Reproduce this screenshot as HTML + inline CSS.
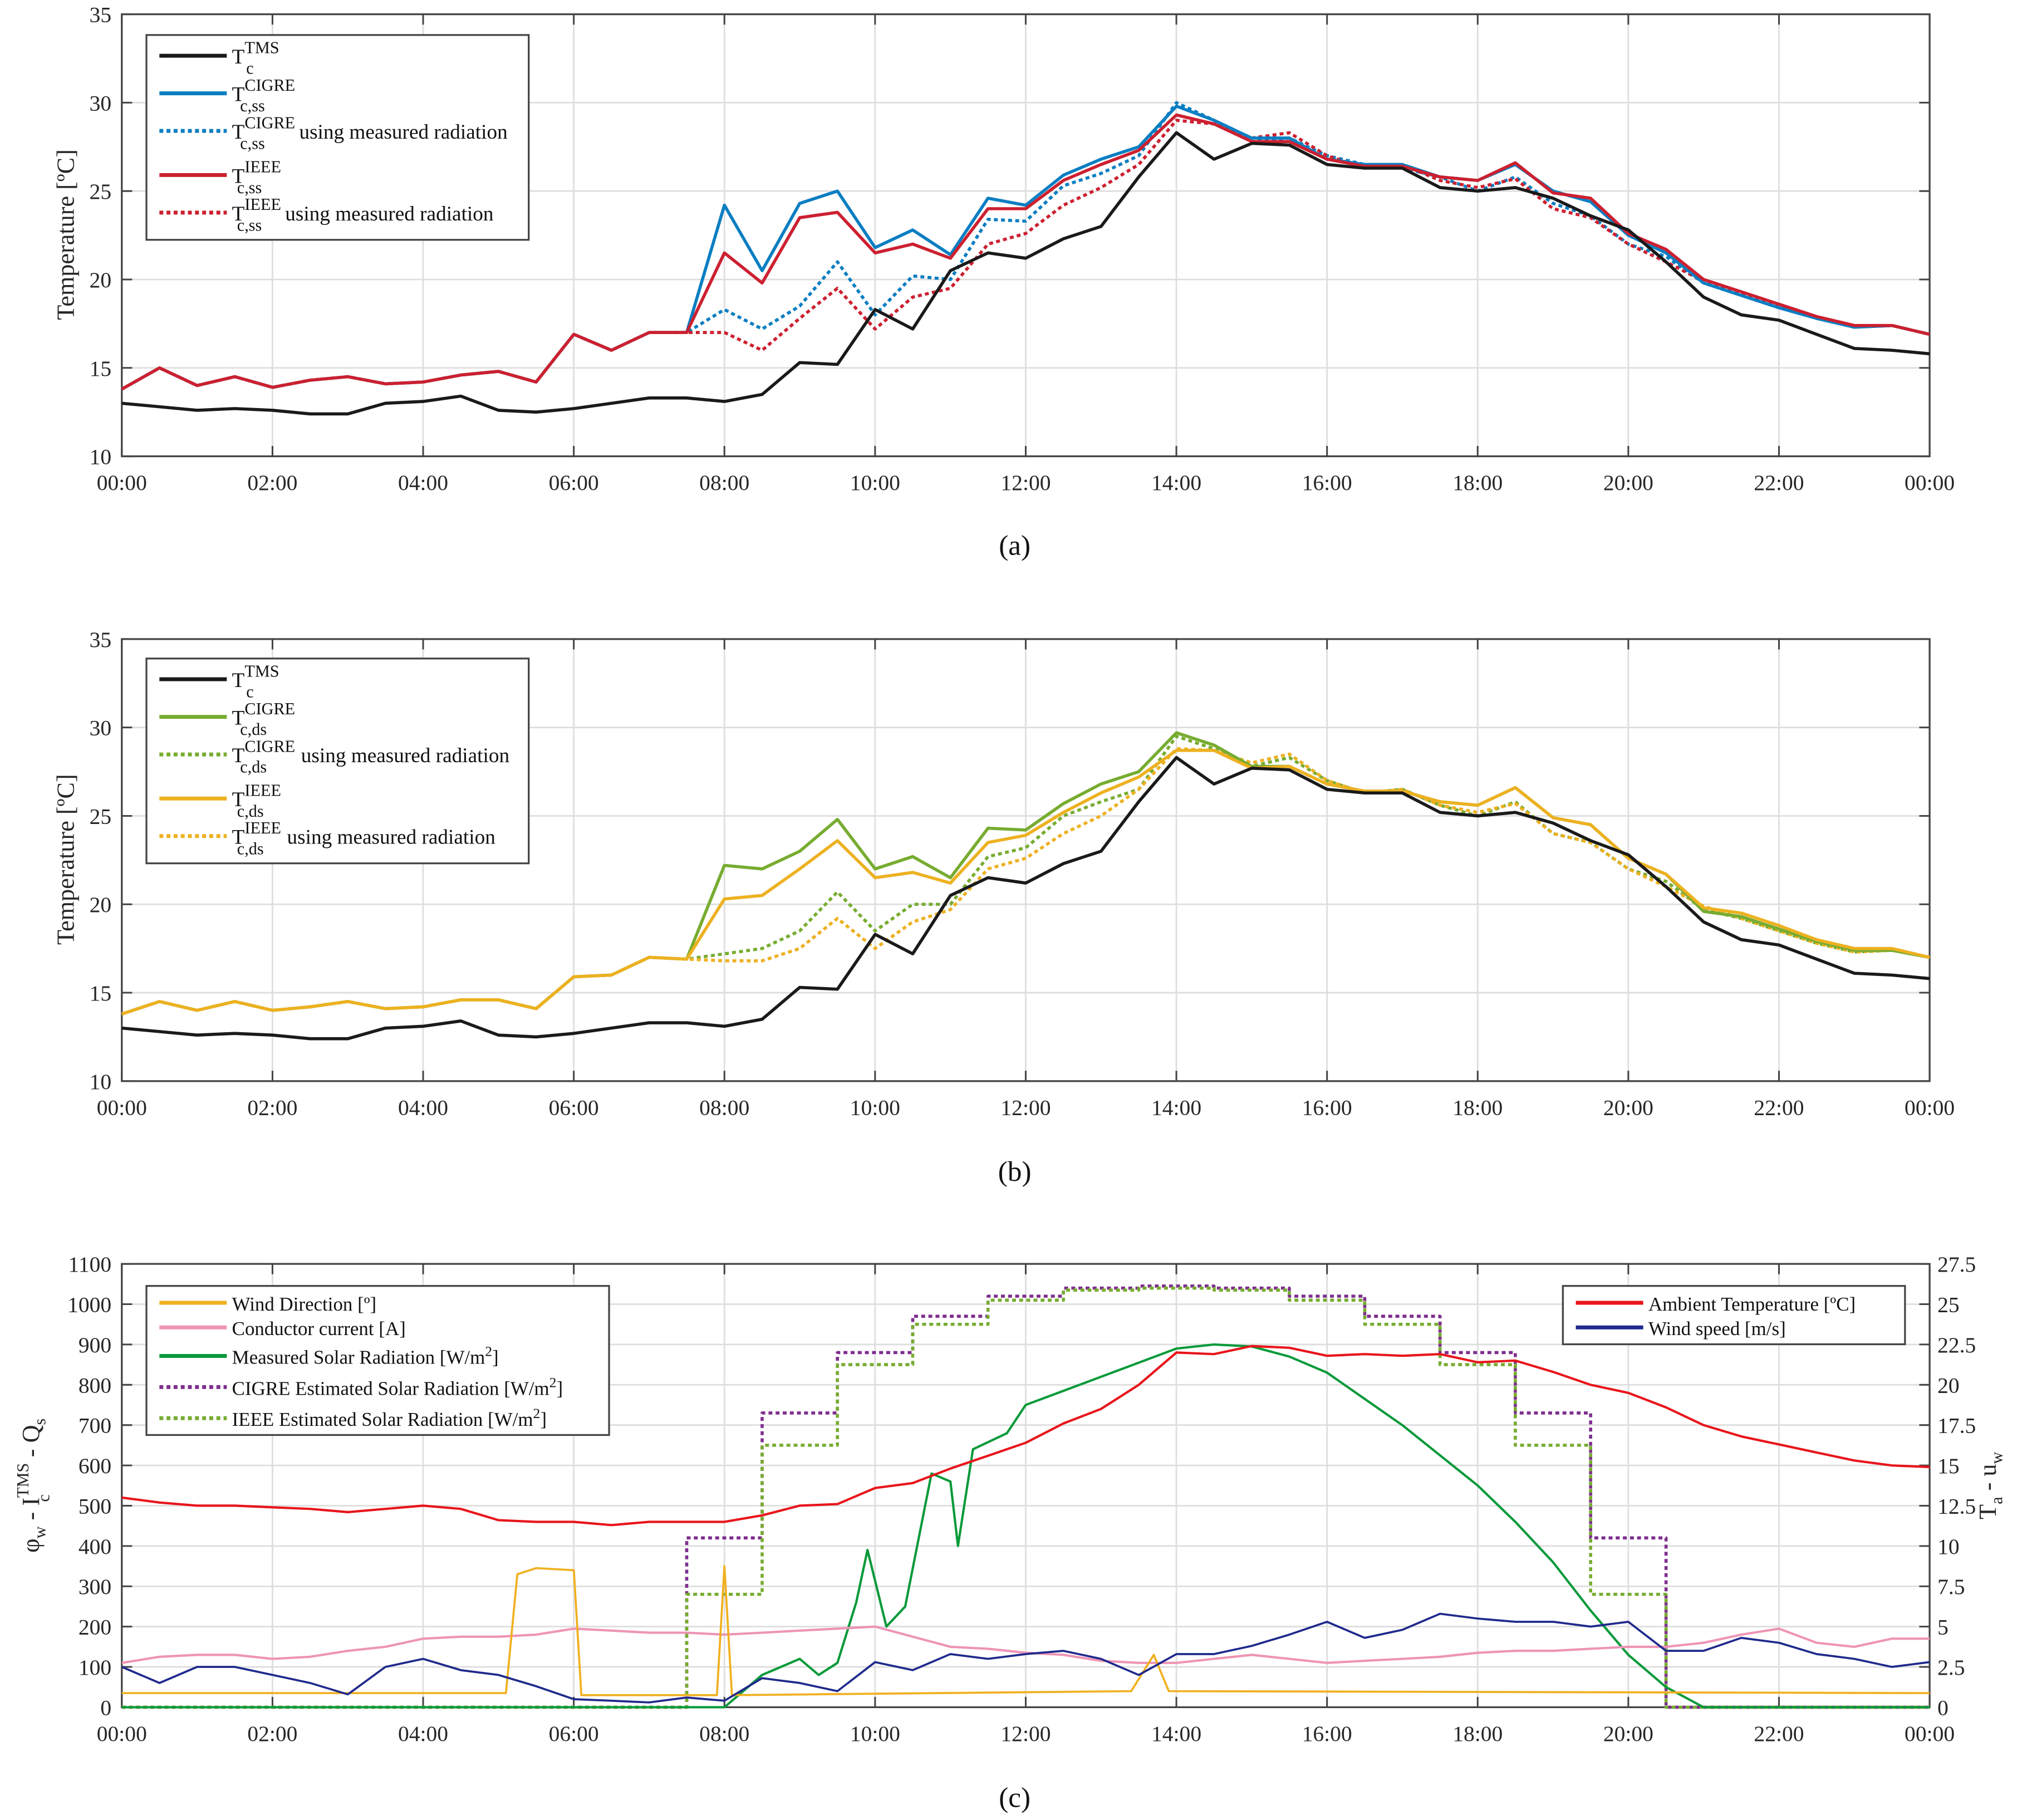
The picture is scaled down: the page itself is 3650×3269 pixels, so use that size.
<!DOCTYPE html>
<html><head><meta charset="utf-8"><style>
html,body{margin:0;padding:0;background:#fff}
svg{display:block;font-family:"Liberation Serif",serif}
</style></head><body>
<svg id="chart" xmlns="http://www.w3.org/2000/svg" width="3650" height="3269" viewBox="0 0 1568 1404" preserveAspectRatio="none"></svg>
<script>
// ---------- data ----------
const hours = [0,0.5,1,1.5,2,2.5,3,3.5,4,4.5,5,5.5,6,6.5,7,7.5,8,8.5,9,9.5,10,10.5,11,11.5,12,12.5,13,13.5,14,14.5,15,15.5,16,16.5,17,17.5,18,18.5,19,19.5,20,20.5,21,21.5,22,22.5,23,23.5,24];
const tms = [13.0,12.8,12.6,12.7,12.6,12.4,12.4,13.0,13.1,13.4,12.6,12.5,12.7,13.0,13.3,13.3,13.1,13.5,15.3,15.2,18.3,17.2,20.5,21.5,21.2,22.3,23.0,25.8,28.3,26.8,27.7,27.6,26.5,26.3,26.3,25.2,25.0,25.2,24.6,23.6,22.8,21.0,19.0,18.0,17.7,16.9,16.1,16.0,15.8];
const cigreSs = [13.8,15.0,14.0,14.5,13.9,14.3,14.5,14.1,14.2,14.6,14.8,14.2,16.9,16.0,17.0,17.0,24.2,20.5,24.3,25.0,21.8,22.8,21.4,24.6,24.2,25.9,26.8,27.5,29.8,29.0,28.0,28.0,26.8,26.5,26.5,25.8,25.6,26.5,25.0,24.4,22.5,21.5,19.8,19.1,18.4,17.8,17.3,17.4,16.9];
const cigreSsMeas = [13.8,15.0,14.0,14.5,13.9,14.3,14.5,14.1,14.2,14.6,14.8,14.2,16.9,16.0,17.0,17.0,18.3,17.2,18.5,21.0,18.0,20.2,20.0,23.4,23.3,25.3,26.0,27.0,30.0,29.0,27.8,28.0,27.0,26.5,26.3,25.8,25.0,25.8,24.3,23.6,22.0,21.3,19.8,19.1,18.4,17.8,17.3,17.4,16.9];
const ieeeSs = [13.8,15.0,14.0,14.5,13.9,14.3,14.5,14.1,14.2,14.6,14.8,14.2,16.9,16.0,17.0,17.0,21.5,19.8,23.5,23.8,21.5,22.0,21.2,24.0,24.0,25.6,26.5,27.3,29.3,28.8,27.8,27.8,26.8,26.4,26.4,25.8,25.6,26.6,24.9,24.6,22.6,21.7,20.0,19.3,18.6,17.9,17.4,17.4,16.9];
const ieeeSsMeas = [13.8,15.0,14.0,14.5,13.9,14.3,14.5,14.1,14.2,14.6,14.8,14.2,16.9,16.0,17.0,17.0,17.0,16.0,17.8,19.5,17.2,19.0,19.5,22.0,22.6,24.2,25.2,26.5,29.0,28.8,28.0,28.3,27.0,26.3,26.5,25.6,25.2,25.7,24.0,23.5,22.0,21.0,19.9,19.2,18.5,17.8,17.3,17.4,16.9];
const cigreDs = [13.8,14.5,14.0,14.5,14.0,14.2,14.5,14.1,14.2,14.6,14.6,14.1,15.9,16.0,17.0,16.9,22.2,22.0,23.0,24.8,22.0,22.7,21.5,24.3,24.2,25.7,26.8,27.5,29.7,29.0,27.8,27.8,26.8,26.4,26.4,25.8,25.6,26.6,24.9,24.5,22.6,21.7,19.6,19.3,18.6,17.9,17.4,17.4,17.0];
const cigreDsMeas = [13.8,14.5,14.0,14.5,14.0,14.2,14.5,14.1,14.2,14.6,14.6,14.1,15.9,16.0,17.0,16.9,17.2,17.5,18.5,20.7,18.5,20.0,20.0,22.7,23.2,25.0,25.8,26.5,29.5,28.8,27.8,28.3,27.0,26.3,26.5,25.6,25.0,25.8,24.0,23.5,22.0,21.3,19.7,19.2,18.5,17.8,17.3,17.4,17.0];
const ieeeDs = [13.8,14.5,14.0,14.5,14.0,14.2,14.5,14.1,14.2,14.6,14.6,14.1,15.9,16.0,17.0,16.9,20.3,20.5,22.0,23.6,21.5,21.8,21.2,23.5,23.9,25.2,26.3,27.2,28.7,28.7,27.7,27.8,26.8,26.4,26.4,25.8,25.6,26.6,24.9,24.5,22.6,21.7,19.8,19.5,18.8,18.0,17.5,17.5,17.0];
const ieeeDsMeas = [13.8,14.5,14.0,14.5,14.0,14.2,14.5,14.1,14.2,14.6,14.6,14.1,15.9,16.0,17.0,16.9,16.8,16.8,17.5,19.2,17.5,19.0,19.7,22.0,22.6,24.0,25.0,26.5,28.8,28.7,28.0,28.5,27.0,26.3,26.5,25.6,25.2,25.7,24.0,23.5,22.0,21.0,19.9,19.2,18.5,17.8,17.3,17.4,17.0];
const ambient = [13.0,12.7,12.5,12.5,12.4,12.3,12.1,12.3,12.5,12.3,11.6,11.5,11.5,11.3,11.5,11.5,11.5,11.9,12.5,12.6,13.6,13.9,14.8,15.6,16.4,17.6,18.5,20.0,22.0,21.9,22.4,22.3,21.8,21.9,21.8,21.9,21.4,21.5,20.8,20.0,19.5,18.6,17.5,16.8,16.3,15.8,15.3,15.0,14.9];
const windSpeed = [2.5,1.5,2.5,2.5,2.0,1.5,0.8,2.5,3.0,2.3,2.0,1.3,0.5,0.4,0.3,0.6,0.4,1.8,1.5,1.0,2.8,2.3,3.3,3.0,3.3,3.5,3.0,2.0,3.3,3.3,3.8,4.5,5.3,4.3,4.8,5.8,5.5,5.3,5.3,5.0,5.3,3.5,3.5,4.3,4.0,3.3,3.0,2.5,2.8];
const current = [110,125,130,130,120,125,140,150,170,175,175,180,195,190,185,185,180,185,190,195,200,175,150,145,135,130,115,110,110,120,130,120,110,115,120,125,135,140,140,145,150,150,160,180,195,160,150,170,170];
const dirHours = [0,5.1,5.25,5.5,6.0,6.1,7.9,8.0,8.1,13.4,13.7,13.9,24];
const windDir = [35,35,330,345,340,30,30,350,30,40,130,40,35];
const solarHours = [0,8.0,8.5,9.0,9.25,9.5,9.75,9.9,10.15,10.4,10.75,11.0,11.1,11.3,11.75,12.0,13.0,14.0,14.5,15.0,15.5,16.0,17.0,18.0,18.5,19.0,19.5,20.0,20.5,21.0,24];
const solarMeas = [0,0,80,120,80,110,260,390,200,250,580,560,400,640,680,750,820,890,900,895,870,830,700,550,460,360,240,130,50,0,0];
const stepHours = [0,7.5,8.5,9.5,10.5,11.5,12.5,13.5,14.5,15.5,16.5,17.5,18.5,19.5,20.5,24];
const cigreRad = [0,420,730,880,970,1020,1040,1045,1040,1020,970,880,730,420,0];
const ieeeRad = [0,280,650,850,950,1010,1035,1040,1035,1010,950,850,650,280,0];
const tempTicks = [10,15,20,25,30,35];
const leftTicksC = [0,100,200,300,400,500,600,700,800,900,1000,1100];
const rightTicksC = ["0","2.5","5","7.5","10","12.5","15","17.5","20","22.5","25","27.5"];
const timeLabels = ["00:00","02:00","04:00","06:00","08:00","10:00","12:00","14:00","16:00","18:00","20:00","22:00","00:00"];

// ---------- drawing ----------
const NS="http://www.w3.org/2000/svg";
const svg=document.getElementById('chart');
function mk(tag,attrs,parent){const e=document.createElementNS(NS,tag);for(const k in attrs)e.setAttribute(k,attrs[k]);(parent||svg).appendChild(e);return e;}
const X0=94,X1=1489;
function xS(h){return X0+(X1-X0)*h/24;}
function axes(top,bot,ymin,ymax,ticks,name,rightLabels){
  const g=mk('g',{});
  
  
  const yS=v=>bot-(bot-top)*(v-ymin)/(ymax-ymin);
  for(let i=0;i<=12;i++){const x=xS(i*2);
    const gl=mk('line',{x1:x,x2:x,y1:top,y2:bot,stroke:'#dedede','stroke-width':1.2},g);
    
    const t=mk('text',{x:x,y:bot+26,'text-anchor':'middle','font-size':17,fill:'#262626'},g);t.textContent=timeLabels[i];
    
    mk('line',{x1:x,x2:x,y1:bot,y2:bot-8,stroke:'#444','stroke-width':1.3},g);
    mk('line',{x1:x,x2:x,y1:top,y2:top+8,stroke:'#444','stroke-width':1.3},g);
  }
  ticks.forEach((v,i)=>{const y=yS(v);
    const gl=mk('line',{x1:X0,x2:X1,y1:y,y2:y,stroke:'#dedede','stroke-width':1.2},g);
    
    const t=mk('text',{x:X0-8,y:y+6,'text-anchor':'end','font-size':17,fill:'#262626'},g);t.textContent=v;
    
    mk('line',{x1:X0,x2:X0+8,y1:y,y2:y,stroke:'#444','stroke-width':1.3},g);
    mk('line',{x1:X1,x2:X1-8,y1:y,y2:y,stroke:'#444','stroke-width':1.3},g);
    if(rightLabels){const r=mk('text',{x:X1+6,y:y+6,'font-size':17,fill:'#262626'},g);r.textContent=rightLabels[i];
      }
  });
  const b=mk('rect',{x:X0,y:top,width:X1-X0,height:bot-top,fill:'none',stroke:'#444','stroke-width':1.4},g);
  
  return yS;
}
function line(xs,ys,yS,color,dashed,name,w,step){
  let d='';
  xs.forEach((h,i)=>{ if(step){ if(i<ys.length){d+=(i?'L':'M')+xS(h).toFixed(1)+','+yS(ys[i]).toFixed(1)+'L'+xS(xs[i+1]).toFixed(1)+','+yS(ys[i]).toFixed(1);} }
    else d+=(i?'L':'M')+xS(h).toFixed(1)+','+yS(ys[i]).toFixed(1);});
  const p=mk('path',{d:d,fill:'none',stroke:color,'stroke-width':w||2.4,'stroke-linejoin':'round','stroke-dasharray':dashed?'3 2.5':'none'});
  
  
}
function ylabel(x,y,txt,name){const t=mk('text',{x:x,y:y,transform:`rotate(-90 ${x} ${y})`,'text-anchor':'middle','font-size':19,fill:'#262626'});t.innerHTML=txt;
  }
function caption(y,txt){const t=mk('text',{x:783,y:y,'text-anchor':'middle','font-size':22,fill:'#111'});t.textContent=txt;
  }
function legend(x,y,w,h,items,name){
  const g=mk('g',{});
  
  mk('rect',{x:x,y:y,width:w,height:h,fill:'#fff',stroke:'#444','stroke-width':1.4},g);
  items.forEach(it=>{
    const e=mk('g',{},g);
    
    mk('line',{x1:x+10,x2:x+62,y1:it.y,y2:it.y,stroke:it.c,'stroke-width':3,'stroke-dasharray':it.d?'3 2.5':'none'},e);
    const t=mk('text',{x:x+66,y:it.y+6,'font-size':it.fs||16,fill:'#111'},e);t.innerHTML=it.t;
  });
}
function tl(sup,sub,extra){return `T<tspan dy="-8" font-size="13">${sup}</tspan><tspan dx="-${sup.length*8.5}" dy="16" font-size="13">${sub}</tspan>`+(extra?`<tspan dy="-8" dx="${Math.max(0,sup.length*8.5-sub.length*6.5)+6}"> using measured radiation</tspan>`:'');}

// Panel a
let yA=axes(11,352,10,35,tempTicks,'panel-a');
ylabel(57,181,'Temperature [ºC]','y-axis-title-a');
line(hours,cigreSsMeas,yA,'#0a7ec2',true,'cigre-ss-measured-line');
line(hours,ieeeSsMeas,yA,'#cc2030',true,'ieee-ss-measured-line');
line(hours,cigreSs,yA,'#0a7ec2',false,'cigre-ss-line');
line(hours,ieeeSs,yA,'#cc2030',false,'ieee-ss-line');
line(hours,tms,yA,'#1a1a1a',false,'tms-line-a');
legend(113,27,295,158,[{y:43,c:'#1a1a1a',t:tl('TMS','c')},{y:72,c:'#0a7ec2',t:tl('CIGRE','c,ss')},{y:101,c:'#0a7ec2',d:1,t:tl('CIGRE','c,ss',1)},{y:135,c:'#cc2030',t:tl('IEEE','c,ss')},{y:164,c:'#cc2030',d:1,t:tl('IEEE','c,ss',1)}],'legend-a');
caption(428,'(a)');

// Panel b
let yB=axes(493,834,10,35,tempTicks,'panel-b');
ylabel(57,663,'Temperature [ºC]','y-axis-title-b');
line(hours,cigreDsMeas,yB,'#77ac30',true,'cigre-ds-measured-line');
line(hours,ieeeDsMeas,yB,'#edb120',true,'ieee-ds-measured-line');
line(hours,cigreDs,yB,'#77ac30',false,'cigre-ds-line');
line(hours,ieeeDs,yB,'#edb120',false,'ieee-ds-line');
line(hours,tms,yB,'#1a1a1a',false,'tms-line-b');
legend(113,508,295,158,[{y:524,c:'#1a1a1a',t:tl('TMS','c')},{y:553,c:'#77ac30',t:tl('CIGRE','c,ds')},{y:582,c:'#77ac30',d:1,t:tl('CIGRE','c,ds',1)},{y:616,c:'#edb120',t:tl('IEEE','c,ds')},{y:645,c:'#edb120',d:1,t:tl('IEEE','c,ds',1)}],'legend-b');
caption(911,'(b)');

// Panel c
let yC=axes(975,1317,0,1100,leftTicksC,'panel-c',rightTicksC);
let yR=v=>yC(v*40);
ylabel(30,1146,'φ<tspan dy="5" font-size="13">w</tspan><tspan dy="-5"> - I</tspan><tspan dy="-8" font-size="13">TMS</tspan><tspan dx="-30" dy="16" font-size="13">c</tspan><tspan dx="24" dy="-8"> - Q</tspan><tspan dy="5" font-size="13">s</tspan>','left-y-axis-title');
const rt=mk('text',{x:1540,y:1146,transform:'rotate(-90 1540 1146)','text-anchor':'middle','font-size':19,fill:'#262626'});
rt.innerHTML='T<tspan dy="5" font-size="13">a</tspan><tspan dy="-5"> - u</tspan><tspan dy="5" font-size="13">w</tspan>';


line(stepHours,cigreRad,yC,'#7e2f8e',true,'cigre-estimated-radiation-line',2.4,true);
line(stepHours,ieeeRad,yC,'#77ac30',true,'ieee-estimated-radiation-line',2.4,true);
line(solarHours,solarMeas,yC,'#0a9a3a',false,'measured-radiation-line',1.8);
line(hours,current,yC,'#ee94b6',false,'conductor-current-line',1.8);
line(dirHours,windDir,yC,'#f0b020',false,'wind-direction-line',1.6);
line(hours,windSpeed,yR,'#1f2a8c',false,'wind-speed-line',1.6);
line(hours,ambient,yR,'#e8151b',false,'ambient-temperature-line',1.8);
legend(113,992,357,115,[{y:1005,c:'#f0b020',t:'Wind Direction [º]',fs:15},{y:1024,c:'#ee94b6',t:'Conductor current [A]',fs:15},{y:1046,c:'#0a9a3a',t:'Measured Solar Radiation [W/m<tspan dy="-6" font-size="11">2</tspan><tspan dy="6">]</tspan>',fs:15},{y:1070,c:'#7e2f8e',d:1,t:'CIGRE Estimated Solar Radiation [W/m<tspan dy="-6" font-size="11">2</tspan><tspan dy="6">]</tspan>',fs:15},{y:1094,c:'#77ac30',d:1,t:'IEEE Estimated Solar Radiation [W/m<tspan dy="-6" font-size="11">2</tspan><tspan dy="6">]</tspan>',fs:15}],'legend-c-left');
legend(1206,992,264,45,[{y:1005,c:'#e8151b',t:'Ambient Temperature [ºC]',fs:15},{y:1024,c:'#1f2a8c',t:'Wind speed [m/s]',fs:15}],'legend-c-right');
caption(1394,'(c)');
</script>
</body></html>
